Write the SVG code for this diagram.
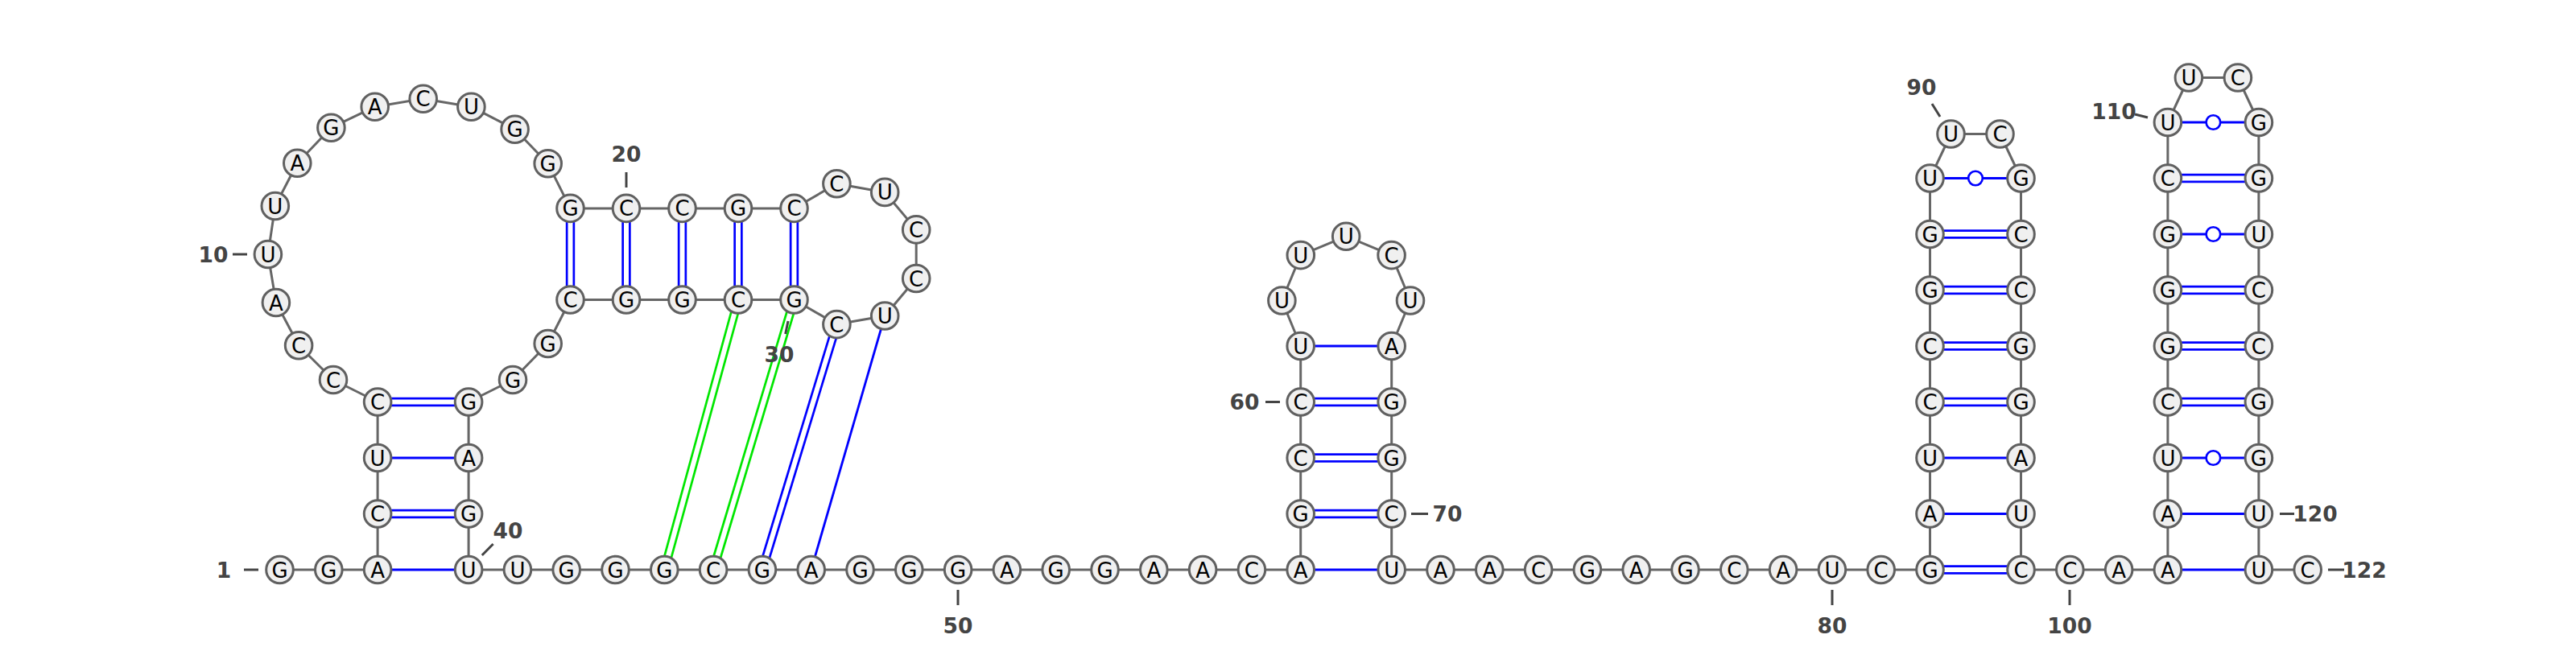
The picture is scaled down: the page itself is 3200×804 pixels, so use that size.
<svg xmlns="http://www.w3.org/2000/svg" width="3200" height="804" viewBox="0 0 3200 804">
<style>
.bg{fill:#ffffff}
.bb{fill:none;stroke:#666666;stroke-width:3;stroke-linejoin:round}
.s{stroke:#0000ff;stroke-width:2.8}
.dB{stroke:#0000ff;stroke-width:11.4}
.dG{stroke:#00e600;stroke-width:11.4}
.dW{stroke:#ffffff;stroke-width:6}
.wb{fill:#ffffff;stroke:#0000ff;stroke-width:2.6}
.tk{stroke:#444444;stroke-width:3}
.num{font-family:"DejaVu Sans","Liberation Sans",sans-serif;font-size:26.5px;font-weight:bold;fill:#444444;text-anchor:middle}
.n circle{fill:#f0f0f0;stroke:#606060;stroke-width:3}
.n text{font-family:"DejaVu Sans","Liberation Sans",sans-serif;font-size:26px;fill:#000000;text-anchor:middle}
</style>
<rect class="bg" x="0" y="0" width="3200" height="804"/>
<g id="connectors">
<polyline class="bb" points="347.5,708 408.3,708 469.1,708 469.1,638.5 469.1,569 469.1,499.5 414,472 371.1,429.3 342.9,376 332.9,316 341.8,256 369.3,202.7 411.4,158.7 465.7,132.7 525.7,122.7 585.4,132.7 639.6,160.7 680.7,203.3 708.5,258.9 778,258.9 847.5,258.9 917,258.9 986.5,258.9 1039.4,228.3 1099.2,238.9 1138.2,285.4 1138.2,346 1099.2,392.5 1039.4,403.1 986.5,372.5 917,372.5 847.5,372.5 778,372.5 708.5,372.5 680.7,427 637,472 582.1,499.5 582.1,569 582.1,638.5 582.1,708 642.9,708 703.7,708 764.5,708 825.3,708 886.1,708 946.9,708 1007.7,708 1068.5,708 1129.3,708 1190.1,708 1250.9,708 1311.7,708 1372.5,708 1433.3,708 1494.1,708 1554.9,708 1615.7,708 1615.7,638.5 1615.7,569 1615.7,499.5 1615.7,430 1592.4,373.5 1615.8,317.1 1672.2,293.7 1728.6,317.1 1752,373.5 1728.7,430 1728.7,499.5 1728.7,569 1728.7,638.5 1728.7,708 1789.5,708 1850.3,708 1911.1,708 1971.9,708 2032.7,708 2093.5,708 2154.3,708 2215.1,708 2275.9,708 2336.7,708 2397.5,708 2397.5,638.5 2397.5,569 2397.5,499.5 2397.5,430 2397.5,360.5 2397.5,291 2397.5,221.5 2423.5,166.5 2484.5,166.5 2510.5,221.5 2510.5,291 2510.5,360.5 2510.5,430 2510.5,499.5 2510.5,569 2510.5,638.5 2510.5,708 2571.3,708 2632.1,708 2692.9,708 2692.9,638.5 2692.9,569 2692.9,499.5 2692.9,430 2692.9,360.5 2692.9,291 2692.9,221.5 2692.9,152 2718.9,96.5 2779.9,96.5 2805.9,152 2805.9,221.5 2805.9,291 2805.9,360.5 2805.9,430 2805.9,499.5 2805.9,569 2805.9,638.5 2805.9,708 2866.7,708"/>
<!-- single pairs -->
<line class="s" x1="469.1" y1="708" x2="582.1" y2="708"/>
<line class="s" x1="469.1" y1="569" x2="582.1" y2="569"/>
<line class="s" x1="1615.7" y1="430" x2="1728.7" y2="430"/>
<line class="s" x1="1615.7" y1="708" x2="1728.7" y2="708"/>
<line class="s" x1="2397.5" y1="638.5" x2="2510.5" y2="638.5"/>
<line class="s" x1="2397.5" y1="569" x2="2510.5" y2="569"/>
<line class="s" x1="2692.9" y1="708" x2="2805.9" y2="708"/>
<line class="s" x1="2692.9" y1="638.5" x2="2805.9" y2="638.5"/>
<line class="s" x1="1007.7" y1="708" x2="1099.2" y2="392.5"/>
<!-- double pairs -->
<g>
<line class="dB" x1="469.1" y1="638.5" x2="582.1" y2="638.5"/><line class="dW" x1="469.1" y1="638.5" x2="582.1" y2="638.5"/>
<line class="dB" x1="469.1" y1="499.5" x2="582.1" y2="499.5"/><line class="dW" x1="469.1" y1="499.5" x2="582.1" y2="499.5"/>
<line class="dB" x1="708.5" y1="258.9" x2="708.5" y2="372.5"/><line class="dW" x1="708.5" y1="258.9" x2="708.5" y2="372.5"/>
<line class="dB" x1="778" y1="258.9" x2="778" y2="372.5"/><line class="dW" x1="778" y1="258.9" x2="778" y2="372.5"/>
<line class="dB" x1="847.5" y1="258.9" x2="847.5" y2="372.5"/><line class="dW" x1="847.5" y1="258.9" x2="847.5" y2="372.5"/>
<line class="dB" x1="917" y1="258.9" x2="917" y2="372.5"/><line class="dW" x1="917" y1="258.9" x2="917" y2="372.5"/>
<line class="dB" x1="986.5" y1="258.9" x2="986.5" y2="372.5"/><line class="dW" x1="986.5" y1="258.9" x2="986.5" y2="372.5"/>
<line class="dB" x1="1615.7" y1="638.5" x2="1728.7" y2="638.5"/><line class="dW" x1="1615.7" y1="638.5" x2="1728.7" y2="638.5"/>
<line class="dB" x1="1615.7" y1="569" x2="1728.7" y2="569"/><line class="dW" x1="1615.7" y1="569" x2="1728.7" y2="569"/>
<line class="dB" x1="1615.7" y1="499.5" x2="1728.7" y2="499.5"/><line class="dW" x1="1615.7" y1="499.5" x2="1728.7" y2="499.5"/>
<line class="dB" x1="2397.5" y1="708" x2="2510.5" y2="708"/><line class="dW" x1="2397.5" y1="708" x2="2510.5" y2="708"/>
<line class="dB" x1="2397.5" y1="499.5" x2="2510.5" y2="499.5"/><line class="dW" x1="2397.5" y1="499.5" x2="2510.5" y2="499.5"/>
<line class="dB" x1="2397.5" y1="430" x2="2510.5" y2="430"/><line class="dW" x1="2397.5" y1="430" x2="2510.5" y2="430"/>
<line class="dB" x1="2397.5" y1="360.5" x2="2510.5" y2="360.5"/><line class="dW" x1="2397.5" y1="360.5" x2="2510.5" y2="360.5"/>
<line class="dB" x1="2397.5" y1="291" x2="2510.5" y2="291"/><line class="dW" x1="2397.5" y1="291" x2="2510.5" y2="291"/>
<line class="dB" x1="2692.9" y1="499.5" x2="2805.9" y2="499.5"/><line class="dW" x1="2692.9" y1="499.5" x2="2805.9" y2="499.5"/>
<line class="dB" x1="2692.9" y1="430" x2="2805.9" y2="430"/><line class="dW" x1="2692.9" y1="430" x2="2805.9" y2="430"/>
<line class="dB" x1="2692.9" y1="360.5" x2="2805.9" y2="360.5"/><line class="dW" x1="2692.9" y1="360.5" x2="2805.9" y2="360.5"/>
<line class="dB" x1="2692.9" y1="221.5" x2="2805.9" y2="221.5"/><line class="dW" x1="2692.9" y1="221.5" x2="2805.9" y2="221.5"/>
<line class="dB" x1="946.9" y1="708" x2="1039.4" y2="403.1"/><line class="dW" x1="946.9" y1="708" x2="1039.4" y2="403.1"/>
<line class="dG" x1="825.3" y1="708" x2="917" y2="372.5"/><line class="dW" x1="825.3" y1="708" x2="917" y2="372.5"/>
<line class="dG" x1="886.1" y1="708" x2="986.5" y2="372.5"/><line class="dW" x1="886.1" y1="708" x2="986.5" y2="372.5"/>
</g>
<!-- wobble pairs -->
<line class="s" x1="2397.5" y1="221.5" x2="2510.5" y2="221.5"/><circle class="wb" cx="2454" cy="221.5" r="8.8"/>
<line class="s" x1="2692.9" y1="152" x2="2805.9" y2="152"/><circle class="wb" cx="2749.4" cy="152" r="8.8"/>
<line class="s" x1="2692.9" y1="291" x2="2805.9" y2="291"/><circle class="wb" cx="2749.4" cy="291" r="8.8"/>
<line class="s" x1="2692.9" y1="569" x2="2805.9" y2="569"/><circle class="wb" cx="2749.4" cy="569" r="8.8"/>
<!-- number ticks -->
<line class="tk" x1="303" y1="708" x2="321" y2="708"/>
<line class="tk" x1="289" y1="316" x2="307" y2="316"/>
<line class="tk" x1="778" y1="214" x2="778" y2="233"/>
<line class="tk" x1="979" y1="399" x2="975.7" y2="415"/>
<line class="tk" x1="612.6" y1="676" x2="598.8" y2="690"/>
<line class="tk" x1="1190" y1="733" x2="1190" y2="752"/>
<line class="tk" x1="1572" y1="499.5" x2="1590" y2="499.5"/>
<line class="tk" x1="1753" y1="638.5" x2="1774" y2="638.5"/>
<line class="tk" x1="2276" y1="733" x2="2276" y2="752"/>
<line class="tk" x1="2400" y1="129" x2="2410" y2="145"/>
<line class="tk" x1="2571" y1="733" x2="2571" y2="752"/>
<line class="tk" x1="2652" y1="142" x2="2668" y2="146"/>
<line class="tk" x1="2832" y1="638.5" x2="2850" y2="638.5"/>
<line class="tk" x1="2892" y1="708" x2="2912" y2="708"/>
</g>
<g id="numbers">
<text class="num" x="278" y="717.5">1</text>
<text class="num" x="265" y="325.5">10</text>
<text class="num" x="778" y="200.5">20</text>
<text class="num" x="968" y="449.5">30</text>
<text class="num" x="631" y="668.5">40</text>
<text class="num" x="1190" y="786.5">50</text>
<text class="num" x="1546" y="509">60</text>
<text class="num" x="1798" y="648">70</text>
<text class="num" x="2276" y="786.5">80</text>
<text class="num" x="2387" y="117.5">90</text>
<text class="num" x="2571" y="786.5">100</text>
<text class="num" x="2626" y="147.5">110</text>
<text class="num" x="2876" y="648">120</text>
<text class="num" x="2937" y="717.5">122</text>
</g>
<g id="n1" class="n"><circle cx="347.5" cy="708" r="16.8"/><text x="347.5" y="717.5">G</text></g>
<g id="n2" class="n"><circle cx="408.3" cy="708" r="16.8"/><text x="408.3" y="717.5">G</text></g>
<g id="n3" class="n"><circle cx="469.1" cy="708" r="16.8"/><text x="469.1" y="717.5">A</text></g>
<g id="n4" class="n"><circle cx="469.1" cy="638.5" r="16.8"/><text x="469.1" y="648">C</text></g>
<g id="n5" class="n"><circle cx="469.1" cy="569" r="16.8"/><text x="469.1" y="578.5">U</text></g>
<g id="n6" class="n"><circle cx="469.1" cy="499.5" r="16.8"/><text x="469.1" y="509">C</text></g>
<g id="n7" class="n"><circle cx="414" cy="472" r="16.8"/><text x="414" y="481.5">C</text></g>
<g id="n8" class="n"><circle cx="371.1" cy="429.3" r="16.8"/><text x="371.1" y="438.8">C</text></g>
<g id="n9" class="n"><circle cx="342.9" cy="376" r="16.8"/><text x="342.9" y="385.5">A</text></g>
<g id="n10" class="n"><circle cx="332.9" cy="316" r="16.8"/><text x="332.9" y="325.5">U</text></g>
<g id="n11" class="n"><circle cx="341.8" cy="256" r="16.8"/><text x="341.8" y="265.5">U</text></g>
<g id="n12" class="n"><circle cx="369.3" cy="202.7" r="16.8"/><text x="369.3" y="212.2">A</text></g>
<g id="n13" class="n"><circle cx="411.4" cy="158.7" r="16.8"/><text x="411.4" y="168.2">G</text></g>
<g id="n14" class="n"><circle cx="465.7" cy="132.7" r="16.8"/><text x="465.7" y="142.2">A</text></g>
<g id="n15" class="n"><circle cx="525.7" cy="122.7" r="16.8"/><text x="525.7" y="132.2">C</text></g>
<g id="n16" class="n"><circle cx="585.4" cy="132.7" r="16.8"/><text x="585.4" y="142.2">U</text></g>
<g id="n17" class="n"><circle cx="639.6" cy="160.7" r="16.8"/><text x="639.6" y="170.2">G</text></g>
<g id="n18" class="n"><circle cx="680.7" cy="203.3" r="16.8"/><text x="680.7" y="212.8">G</text></g>
<g id="n19" class="n"><circle cx="708.5" cy="258.9" r="16.8"/><text x="708.5" y="268.4">G</text></g>
<g id="n20" class="n"><circle cx="778" cy="258.9" r="16.8"/><text x="778" y="268.4">C</text></g>
<g id="n21" class="n"><circle cx="847.5" cy="258.9" r="16.8"/><text x="847.5" y="268.4">C</text></g>
<g id="n22" class="n"><circle cx="917" cy="258.9" r="16.8"/><text x="917" y="268.4">G</text></g>
<g id="n23" class="n"><circle cx="986.5" cy="258.9" r="16.8"/><text x="986.5" y="268.4">C</text></g>
<g id="n24" class="n"><circle cx="1039.4" cy="228.3" r="16.8"/><text x="1039.4" y="237.8">C</text></g>
<g id="n25" class="n"><circle cx="1099.2" cy="238.9" r="16.8"/><text x="1099.2" y="248.4">U</text></g>
<g id="n26" class="n"><circle cx="1138.2" cy="285.4" r="16.8"/><text x="1138.2" y="294.9">C</text></g>
<g id="n27" class="n"><circle cx="1138.2" cy="346" r="16.8"/><text x="1138.2" y="355.5">C</text></g>
<g id="n28" class="n"><circle cx="1099.2" cy="392.5" r="16.8"/><text x="1099.2" y="402">U</text></g>
<g id="n29" class="n"><circle cx="1039.4" cy="403.1" r="16.8"/><text x="1039.4" y="412.6">C</text></g>
<g id="n30" class="n"><circle cx="986.5" cy="372.5" r="16.8"/><text x="986.5" y="382">G</text></g>
<g id="n31" class="n"><circle cx="917" cy="372.5" r="16.8"/><text x="917" y="382">C</text></g>
<g id="n32" class="n"><circle cx="847.5" cy="372.5" r="16.8"/><text x="847.5" y="382">G</text></g>
<g id="n33" class="n"><circle cx="778" cy="372.5" r="16.8"/><text x="778" y="382">G</text></g>
<g id="n34" class="n"><circle cx="708.5" cy="372.5" r="16.8"/><text x="708.5" y="382">C</text></g>
<g id="n35" class="n"><circle cx="680.7" cy="427" r="16.8"/><text x="680.7" y="436.5">G</text></g>
<g id="n36" class="n"><circle cx="637" cy="472" r="16.8"/><text x="637" y="481.5">G</text></g>
<g id="n37" class="n"><circle cx="582.1" cy="499.5" r="16.8"/><text x="582.1" y="509">G</text></g>
<g id="n38" class="n"><circle cx="582.1" cy="569" r="16.8"/><text x="582.1" y="578.5">A</text></g>
<g id="n39" class="n"><circle cx="582.1" cy="638.5" r="16.8"/><text x="582.1" y="648">G</text></g>
<g id="n40" class="n"><circle cx="582.1" cy="708" r="16.8"/><text x="582.1" y="717.5">U</text></g>
<g id="n41" class="n"><circle cx="642.9" cy="708" r="16.8"/><text x="642.9" y="717.5">U</text></g>
<g id="n42" class="n"><circle cx="703.7" cy="708" r="16.8"/><text x="703.7" y="717.5">G</text></g>
<g id="n43" class="n"><circle cx="764.5" cy="708" r="16.8"/><text x="764.5" y="717.5">G</text></g>
<g id="n44" class="n"><circle cx="825.3" cy="708" r="16.8"/><text x="825.3" y="717.5">G</text></g>
<g id="n45" class="n"><circle cx="886.1" cy="708" r="16.8"/><text x="886.1" y="717.5">C</text></g>
<g id="n46" class="n"><circle cx="946.9" cy="708" r="16.8"/><text x="946.9" y="717.5">G</text></g>
<g id="n47" class="n"><circle cx="1007.7" cy="708" r="16.8"/><text x="1007.7" y="717.5">A</text></g>
<g id="n48" class="n"><circle cx="1068.5" cy="708" r="16.8"/><text x="1068.5" y="717.5">G</text></g>
<g id="n49" class="n"><circle cx="1129.3" cy="708" r="16.8"/><text x="1129.3" y="717.5">G</text></g>
<g id="n50" class="n"><circle cx="1190.1" cy="708" r="16.8"/><text x="1190.1" y="717.5">G</text></g>
<g id="n51" class="n"><circle cx="1250.9" cy="708" r="16.8"/><text x="1250.9" y="717.5">A</text></g>
<g id="n52" class="n"><circle cx="1311.7" cy="708" r="16.8"/><text x="1311.7" y="717.5">G</text></g>
<g id="n53" class="n"><circle cx="1372.5" cy="708" r="16.8"/><text x="1372.5" y="717.5">G</text></g>
<g id="n54" class="n"><circle cx="1433.3" cy="708" r="16.8"/><text x="1433.3" y="717.5">A</text></g>
<g id="n55" class="n"><circle cx="1494.1" cy="708" r="16.8"/><text x="1494.1" y="717.5">A</text></g>
<g id="n56" class="n"><circle cx="1554.9" cy="708" r="16.8"/><text x="1554.9" y="717.5">C</text></g>
<g id="n57" class="n"><circle cx="1615.7" cy="708" r="16.8"/><text x="1615.7" y="717.5">A</text></g>
<g id="n58" class="n"><circle cx="1615.7" cy="638.5" r="16.8"/><text x="1615.7" y="648">G</text></g>
<g id="n59" class="n"><circle cx="1615.7" cy="569" r="16.8"/><text x="1615.7" y="578.5">C</text></g>
<g id="n60" class="n"><circle cx="1615.7" cy="499.5" r="16.8"/><text x="1615.7" y="509">C</text></g>
<g id="n61" class="n"><circle cx="1615.7" cy="430" r="16.8"/><text x="1615.7" y="439.5">U</text></g>
<g id="n62" class="n"><circle cx="1592.4" cy="373.5" r="16.8"/><text x="1592.4" y="383">U</text></g>
<g id="n63" class="n"><circle cx="1615.8" cy="317.1" r="16.8"/><text x="1615.8" y="326.6">U</text></g>
<g id="n64" class="n"><circle cx="1672.2" cy="293.7" r="16.8"/><text x="1672.2" y="303.2">U</text></g>
<g id="n65" class="n"><circle cx="1728.6" cy="317.1" r="16.8"/><text x="1728.6" y="326.6">C</text></g>
<g id="n66" class="n"><circle cx="1752" cy="373.5" r="16.8"/><text x="1752" y="383">U</text></g>
<g id="n67" class="n"><circle cx="1728.7" cy="430" r="16.8"/><text x="1728.7" y="439.5">A</text></g>
<g id="n68" class="n"><circle cx="1728.7" cy="499.5" r="16.8"/><text x="1728.7" y="509">G</text></g>
<g id="n69" class="n"><circle cx="1728.7" cy="569" r="16.8"/><text x="1728.7" y="578.5">G</text></g>
<g id="n70" class="n"><circle cx="1728.7" cy="638.5" r="16.8"/><text x="1728.7" y="648">C</text></g>
<g id="n71" class="n"><circle cx="1728.7" cy="708" r="16.8"/><text x="1728.7" y="717.5">U</text></g>
<g id="n72" class="n"><circle cx="1789.5" cy="708" r="16.8"/><text x="1789.5" y="717.5">A</text></g>
<g id="n73" class="n"><circle cx="1850.3" cy="708" r="16.8"/><text x="1850.3" y="717.5">A</text></g>
<g id="n74" class="n"><circle cx="1911.1" cy="708" r="16.8"/><text x="1911.1" y="717.5">C</text></g>
<g id="n75" class="n"><circle cx="1971.9" cy="708" r="16.8"/><text x="1971.9" y="717.5">G</text></g>
<g id="n76" class="n"><circle cx="2032.7" cy="708" r="16.8"/><text x="2032.7" y="717.5">A</text></g>
<g id="n77" class="n"><circle cx="2093.5" cy="708" r="16.8"/><text x="2093.5" y="717.5">G</text></g>
<g id="n78" class="n"><circle cx="2154.3" cy="708" r="16.8"/><text x="2154.3" y="717.5">C</text></g>
<g id="n79" class="n"><circle cx="2215.1" cy="708" r="16.8"/><text x="2215.1" y="717.5">A</text></g>
<g id="n80" class="n"><circle cx="2275.9" cy="708" r="16.8"/><text x="2275.9" y="717.5">U</text></g>
<g id="n81" class="n"><circle cx="2336.7" cy="708" r="16.8"/><text x="2336.7" y="717.5">C</text></g>
<g id="n82" class="n"><circle cx="2397.5" cy="708" r="16.8"/><text x="2397.5" y="717.5">G</text></g>
<g id="n83" class="n"><circle cx="2397.5" cy="638.5" r="16.8"/><text x="2397.5" y="648">A</text></g>
<g id="n84" class="n"><circle cx="2397.5" cy="569" r="16.8"/><text x="2397.5" y="578.5">U</text></g>
<g id="n85" class="n"><circle cx="2397.5" cy="499.5" r="16.8"/><text x="2397.5" y="509">C</text></g>
<g id="n86" class="n"><circle cx="2397.5" cy="430" r="16.8"/><text x="2397.5" y="439.5">C</text></g>
<g id="n87" class="n"><circle cx="2397.5" cy="360.5" r="16.8"/><text x="2397.5" y="370">G</text></g>
<g id="n88" class="n"><circle cx="2397.5" cy="291" r="16.8"/><text x="2397.5" y="300.5">G</text></g>
<g id="n89" class="n"><circle cx="2397.5" cy="221.5" r="16.8"/><text x="2397.5" y="231">U</text></g>
<g id="n90" class="n"><circle cx="2423.5" cy="166.5" r="16.8"/><text x="2423.5" y="176">U</text></g>
<g id="n91" class="n"><circle cx="2484.5" cy="166.5" r="16.8"/><text x="2484.5" y="176">C</text></g>
<g id="n92" class="n"><circle cx="2510.5" cy="221.5" r="16.8"/><text x="2510.5" y="231">G</text></g>
<g id="n93" class="n"><circle cx="2510.5" cy="291" r="16.8"/><text x="2510.5" y="300.5">C</text></g>
<g id="n94" class="n"><circle cx="2510.5" cy="360.5" r="16.8"/><text x="2510.5" y="370">C</text></g>
<g id="n95" class="n"><circle cx="2510.5" cy="430" r="16.8"/><text x="2510.5" y="439.5">G</text></g>
<g id="n96" class="n"><circle cx="2510.5" cy="499.5" r="16.8"/><text x="2510.5" y="509">G</text></g>
<g id="n97" class="n"><circle cx="2510.5" cy="569" r="16.8"/><text x="2510.5" y="578.5">A</text></g>
<g id="n98" class="n"><circle cx="2510.5" cy="638.5" r="16.8"/><text x="2510.5" y="648">U</text></g>
<g id="n99" class="n"><circle cx="2510.5" cy="708" r="16.8"/><text x="2510.5" y="717.5">C</text></g>
<g id="n100" class="n"><circle cx="2571.3" cy="708" r="16.8"/><text x="2571.3" y="717.5">C</text></g>
<g id="n101" class="n"><circle cx="2632.1" cy="708" r="16.8"/><text x="2632.1" y="717.5">A</text></g>
<g id="n102" class="n"><circle cx="2692.9" cy="708" r="16.8"/><text x="2692.9" y="717.5">A</text></g>
<g id="n103" class="n"><circle cx="2692.9" cy="638.5" r="16.8"/><text x="2692.9" y="648">A</text></g>
<g id="n104" class="n"><circle cx="2692.9" cy="569" r="16.8"/><text x="2692.9" y="578.5">U</text></g>
<g id="n105" class="n"><circle cx="2692.9" cy="499.5" r="16.8"/><text x="2692.9" y="509">C</text></g>
<g id="n106" class="n"><circle cx="2692.9" cy="430" r="16.8"/><text x="2692.9" y="439.5">G</text></g>
<g id="n107" class="n"><circle cx="2692.9" cy="360.5" r="16.8"/><text x="2692.9" y="370">G</text></g>
<g id="n108" class="n"><circle cx="2692.9" cy="291" r="16.8"/><text x="2692.9" y="300.5">G</text></g>
<g id="n109" class="n"><circle cx="2692.9" cy="221.5" r="16.8"/><text x="2692.9" y="231">C</text></g>
<g id="n110" class="n"><circle cx="2692.9" cy="152" r="16.8"/><text x="2692.9" y="161.5">U</text></g>
<g id="n111" class="n"><circle cx="2718.9" cy="96.5" r="16.8"/><text x="2718.9" y="106">U</text></g>
<g id="n112" class="n"><circle cx="2779.9" cy="96.5" r="16.8"/><text x="2779.9" y="106">C</text></g>
<g id="n113" class="n"><circle cx="2805.9" cy="152" r="16.8"/><text x="2805.9" y="161.5">G</text></g>
<g id="n114" class="n"><circle cx="2805.9" cy="221.5" r="16.8"/><text x="2805.9" y="231">G</text></g>
<g id="n115" class="n"><circle cx="2805.9" cy="291" r="16.8"/><text x="2805.9" y="300.5">U</text></g>
<g id="n116" class="n"><circle cx="2805.9" cy="360.5" r="16.8"/><text x="2805.9" y="370">C</text></g>
<g id="n117" class="n"><circle cx="2805.9" cy="430" r="16.8"/><text x="2805.9" y="439.5">C</text></g>
<g id="n118" class="n"><circle cx="2805.9" cy="499.5" r="16.8"/><text x="2805.9" y="509">G</text></g>
<g id="n119" class="n"><circle cx="2805.9" cy="569" r="16.8"/><text x="2805.9" y="578.5">G</text></g>
<g id="n120" class="n"><circle cx="2805.9" cy="638.5" r="16.8"/><text x="2805.9" y="648">U</text></g>
<g id="n121" class="n"><circle cx="2805.9" cy="708" r="16.8"/><text x="2805.9" y="717.5">U</text></g>
<g id="n122" class="n"><circle cx="2866.7" cy="708" r="16.8"/><text x="2866.7" y="717.5">C</text></g>
</svg>
